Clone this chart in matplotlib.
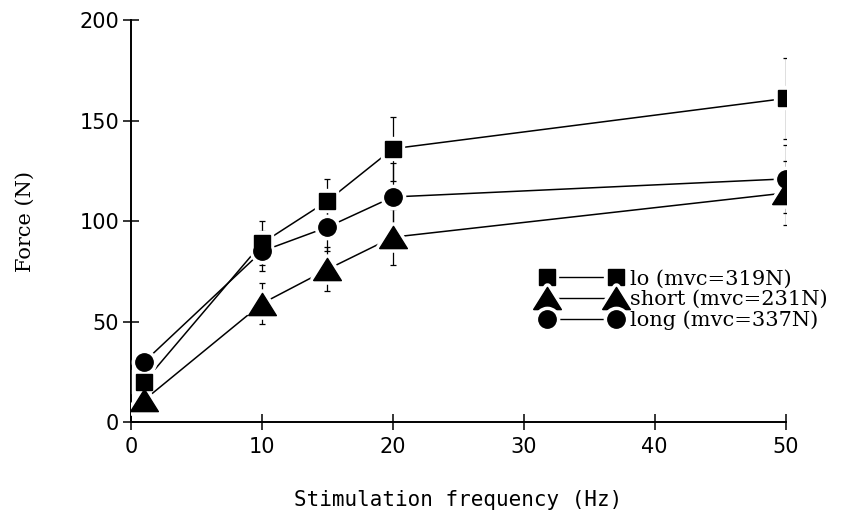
import matplotlib.pyplot as plt
from matplotlib.lines import Line2D
from matplotlib.legend_handler import HandlerTuple

# Data
freq = [1, 10, 15, 20, 50]

lo_force = [20, 89, 110, 136, 161]
lo_err = [3, 11, 11, 16, 20]

short_force = [11, 59, 76, 92, 114]
short_err = [3, 10, 11, 14, 16]

long_force = [30, 85, 97, 112, 121]
long_err = [3, 10, 12, 17, 17]

labels = ["lo (mvc=319N)", "short (mvc=231N)", "long (mvc=337N)"]

# wide, flat triangle like the original
tri = [(-1, -0.8), (1, -0.8), (0, 0.8), (-1, -0.8)]

fig = plt.figure(figsize=(8.68, 5.13), dpi=100)
ax = fig.add_axes([0.151, 0.177, 0.754, 0.784])

series = [
    (lo_force, lo_err, "s", 12),
    (short_force, short_err, tri, 20),
    (long_force, long_err, "o", 12.5),
]

handles = []
for force, err, mk, ms in series:
    ax.errorbar(freq, force, yerr=err, fmt="none", ecolor="black",
                elinewidth=0.9, capsize=2.5, capthick=0.9, zorder=2)
    # white marker edge leaves a small gap between line and marker
    ax.plot(freq, force, color="black", linewidth=1.1, marker=mk,
            markersize=ms, markerfacecolor="black",
            markeredgecolor="white", markeredgewidth=6, zorder=3)
    ax.plot(freq, force, linestyle="none", marker=mk, markersize=ms,
            color="black", zorder=4)
    h1 = Line2D([], [], color="black", linewidth=1.0, marker=mk,
                markersize=ms, markerfacecolor="black",
                markeredgecolor="white", markeredgewidth=6)
    h2 = Line2D([], [], linestyle="none", marker=mk, markersize=ms,
                color="black")
    handles.append((h1, h2))

ax.set_xlim(0, 50)
ax.set_ylim(0, 200)
ax.set_xticks([0, 10, 20, 30, 40, 50])
ax.set_yticks([0, 50, 100, 150, 200])

for side in ["top", "right"]:
    ax.spines[side].set_visible(False)
for side in ["left", "bottom"]:
    ax.spines[side].set_linewidth(1.4)
ax.tick_params(direction="inout", length=11, width=1.1, labelsize=15)
ax.tick_params(axis="x", pad=5)
ax.tick_params(axis="y", pad=3)

for t in ax.get_xticklabels() + ax.get_yticklabels():
    t.set_family("DejaVu Sans")

ax.set_xlabel("Stimulation frequency (Hz)", fontsize=15,
              family="DejaVu Sans Mono", labelpad=24)
ax.set_ylabel("Force (N)", fontsize=15, family="DejaVu Serif", labelpad=32)

leg = ax.legend(handles, labels, loc="upper left",
                bbox_to_anchor=(0.623, 0.475), bbox_transform=fig.transFigure,
                frameon=False, numpoints=2, handlelength=3.9,
                handletextpad=0.4, labelspacing=0.08, borderpad=0,
                borderaxespad=0,
                handler_map={tuple: HandlerTuple(ndivide=1)},
                prop={"family": "DejaVu Serif", "size": 15})

fig.savefig("out.png", dpi=100)
